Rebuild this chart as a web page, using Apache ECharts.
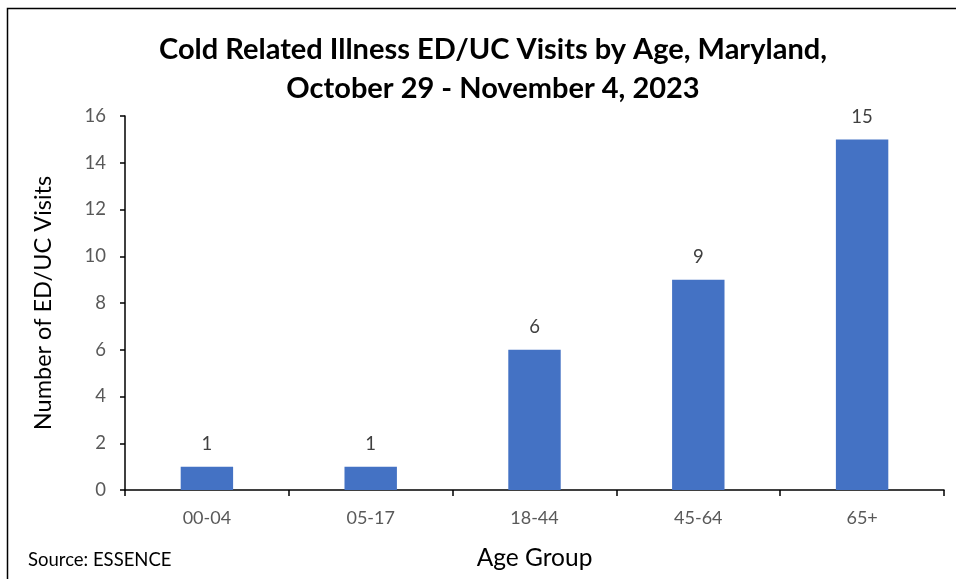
<!DOCTYPE html>
<html>
<head>
<meta charset="utf-8">
<script src="https://cdn.jsdelivr.net/npm/echarts@6/dist/echarts.min.js"></script>
<style>
html,body{margin:0;padding:0;background:#fff;}
#chart{width:956px;height:579px;}
</style>
</head>
<body>
<div id="chart"></div>
<script>
// age groups and visit counts
var ageGroups = ['00-04', '05-17', '18-44', '45-64', '65+'];
var visits = [1, 1, 6, 9, 15];
var yTicks = {min: 0, max: 16, interval: 2};

var myChart = echarts.init(document.getElementById('chart'));
var font = 'Lato';
var option = {
	animation: false,
	backgroundColor: '#fff',
	title: {
		text: 'Cold Related Illness ED/UC Visits by Age, Maryland,\nOctober 29 - November 4, 2023',
		left: 488,
		textAlign: 'center',
		top: 25,
		textStyle: {fontFamily: font, fontSize: 29, fontWeight: 'bold', color: '#000', lineHeight: 39}
	},
	graphic: [
		{type: 'rect', shape: {x: 7.5, y: 8.5, width: 1000, height: 1000},
		 style: {fill: 'none', stroke: '#000', lineWidth: 1.5}, silent: true},
		{type: 'text', left: 28, top: 551,
		 style: {text: 'Source: ESSENCE', fontFamily: font, fontSize: 18.5, fill: '#000'}}
	],
	grid: {left: 125, right: 12, top: 116, bottom: 89},
	xAxis: {
		type: 'category',
		data: ageGroups,
		name: 'Age Group',
		nameLocation: 'middle',
		nameGap: 56,
		nameTextStyle: {fontFamily: font, fontSize: 24.5, color: '#000'},
		axisLine: {lineStyle: {color: '#000', width: 1.5}},
		axisTick: {show: true, length: 6, lineStyle: {color: '#000', width: 1.5}},
		axisLabel: {fontFamily: font, fontSize: 18, color: '#595959', margin: 19}
	},
	yAxis: {
		type: 'value',
		min: yTicks.min,
		max: yTicks.max,
		interval: yTicks.interval,
		name: 'Number of ED/UC Visits',
		nameLocation: 'middle',
		nameGap: 70,
		nameTextStyle: {fontFamily: font, fontSize: 23.5, color: '#000'},
		axisLine: {show: true, lineStyle: {color: '#000', width: 1.5}},
		axisTick: {show: true, length: 5, lineStyle: {color: '#000', width: 1.5}},
		axisLabel: {fontFamily: font, fontSize: 18.5, color: '#595959', margin: 19},
		splitLine: {show: false}
	},
	series: [{
		type: 'bar',
		data: visits,
		barWidth: '32%',
		itemStyle: {color: '#4472C4'},
		label: {show: true, position: 'top', distance: 13, fontFamily: font, fontSize: 18.5, color: '#404040'}
	}]
};
myChart.setOption(option);
</script>
</body>
</html>
